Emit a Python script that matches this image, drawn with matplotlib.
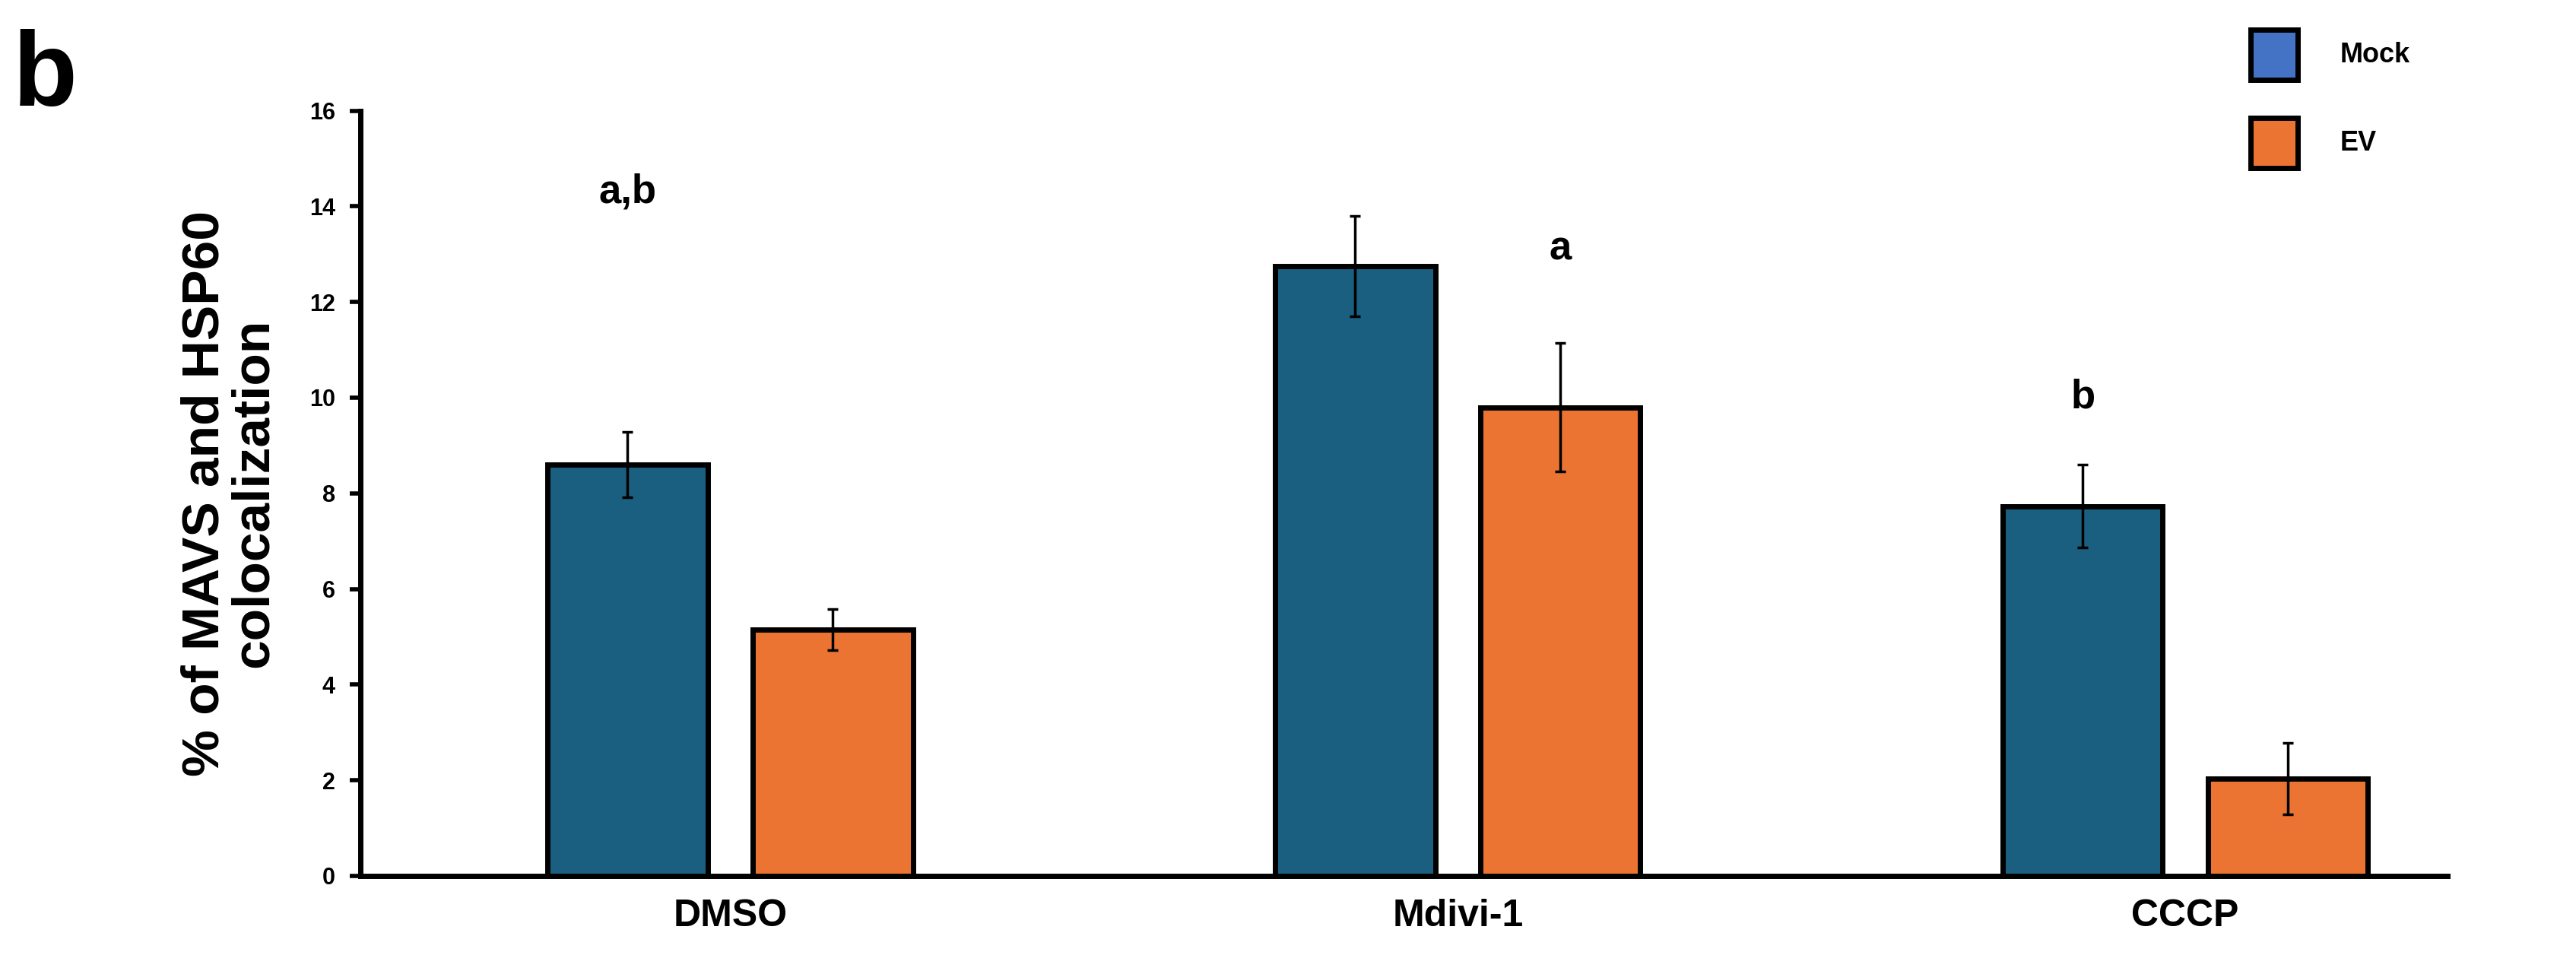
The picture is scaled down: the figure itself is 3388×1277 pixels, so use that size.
import matplotlib
matplotlib.use("Agg")
import matplotlib.pyplot as plt
from matplotlib.patches import Rectangle
import numpy as np

categories = ["DMSO", "Mdivi-1", "CCCP"]
mock = [8.6, 12.75, 7.73]
mock_err = [0.69, 1.05, 0.87]
ev = [5.15, 9.8, 2.03]
ev_err = [0.43, 1.35, 0.75]
letters = ["a,b", "a", "b"]
letter_series = ["mock", "ev", "mock"]
letter_y = [14.3, 13.1, 10.0]
yticks = [0, 2, 4, 6, 8, 10, 12, 14, 16]

plt.rcParams['font.family'] = ['Liberation Sans', 'DejaVu Sans']
W, H = 3388, 1277
fig = plt.figure(figsize=(W/100, H/100), dpi=100)
ax = fig.add_axes([0.140, 0.098, 0.81, 0.788])

x = np.arange(len(categories))
bw, off = 0.22, 0.141
c_mock, c_ev = "#1a5e80", "#eb7433"
ekw = dict(ecolor="black", elinewidth=2.5, capsize=5, capthick=2.5)
ax.bar(x - off, mock, bw, color=c_mock, edgecolor="black", linewidth=5,
       yerr=mock_err, error_kw=ekw, zorder=3)
ax.bar(x + off, ev, bw, color=c_ev, edgecolor="black", linewidth=5,
       yerr=ev_err, error_kw=ekw, zorder=3)

for i, (lt, s, ly) in enumerate(zip(letters, letter_series, letter_y)):
    xx = x[i] - off if s == "mock" else x[i] + off
    ax.text(xx, ly, lt, ha="center", va="center", fontsize=38, fontweight="bold")

ax.set_xlim(-0.508, 2.36)
ax.set_ylim(0, 16)
ax.set_yticks(yticks)
ax.set_yticklabels([str(t) for t in yticks], fontsize=22, fontweight="bold")
ax.set_xticks(x)
ax.set_xticklabels(categories, fontsize=36, fontweight="bold")
ax.tick_params(axis="x", length=0, pad=22)
ax.tick_params(axis="y", length=10, width=4, pad=14)
for s in ["top", "right"]:
    ax.spines[s].set_visible(False)
for s in ["left", "bottom"]:
    ax.spines[s].set_linewidth(5)
ax.set_ylabel("% of MAVS and HSP60\ncolocalization", fontsize=50, fontweight="bold",
              labelpad=30, linespacing=1.0)

fig.text(0.005, 0.97, "b", fontsize=100, fontweight="bold", va="top", ha="left")

# legend
for (y0, col, lab) in [(39, "#4472c4", "Mock"), (155, c_ev, "EV")]:
    r = Rectangle((2960/W, 1 - (y0 + 66)/H), 62/W, 66/H, transform=fig.transFigure,
                  facecolor=col, edgecolor="black", linewidth=5)
    fig.patches.append(r)
    fig.text(3078/W, 1 - (y0 + 33)/H, lab, fontsize=26, fontweight="bold", va="center")

fig.savefig("out.png", dpi=100)
